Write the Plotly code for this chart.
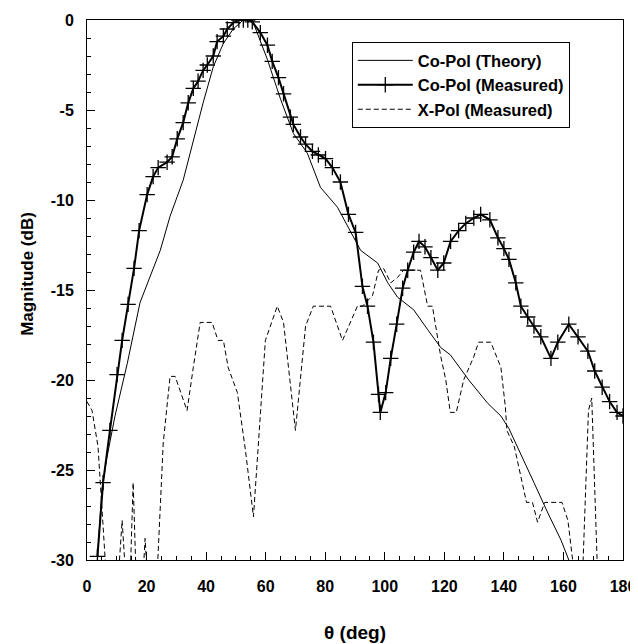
import plotly.graph_objects as go

# --- Co-Pol (Theory) ---
theory_theta = [3.5, 5.0, 6.7, 9.4, 13.5, 17.8, 24.6, 27.9, 32.3, 35.7, 39.0, 42.4,
                45.8, 49.1, 52.5, 55.5, 60.6, 65.0, 69.3, 74.0, 78.4, 84.1, 88.5,
                91.9, 97.6, 101.0, 104.3, 109.7, 114.4, 118.8, 122.0, 128.2, 134.6,
                139.0, 141.7, 145.7, 150.1, 154.8, 159.2, 161.8, 163.0]
theory_db = [-30.0, -26.1, -24.3, -22.0, -19.1, -15.7, -12.8, -10.9, -8.9, -6.7, -4.6, -2.6,
             -1.3, -0.5, 0.0, 0.0, -2.2, -4.4, -6.3, -7.4, -9.3, -10.4, -11.8,
             -12.8, -13.5, -14.6, -15.4, -16.1, -17.2, -18.2, -18.6, -20.0, -21.3,
             -22.0, -22.7, -24.1, -25.7, -27.4, -28.9, -30.0, -30.6]

# --- Co-Pol (Measured) ---
meas_theta = [3.5, 5.4, 7.7, 10.1, 11.8, 13.8, 15.8, 17.5, 20.2, 22.2, 23.9, 26.9,
              28.6, 30.3, 32.3, 34.0, 35.7, 37.3, 39.0, 40.4, 42.4, 43.7, 45.8, 47.1,
              49.1, 51.0, 52.5, 54.0, 55.5, 58.2, 60.6, 62.2, 64.3, 66.0, 68.3, 69.3,
              71.7, 73.4, 75.7, 77.7, 80.1, 82.4, 85.1, 87.8, 90.2, 92.5, 94.2, 96.2,
              97.9, 98.5, 100.3, 102.0, 104.0, 106.0, 107.7, 109.7, 111.5, 113.5,
              115.5, 117.8, 119.8, 122.1, 124.8, 127.2, 129.9, 132.2, 135.3, 138.0,
              140.0, 141.7, 144.0, 145.7, 148.0, 150.1, 152.4, 155.8, 158.1, 161.8,
              164.9, 168.2, 170.5, 173.0, 175.5, 178.0, 180.0]
meas_db = [-29.8, -25.7, -22.8, -19.7, -17.8, -15.8, -13.8, -11.7, -9.7, -8.7, -8.2, -7.9,
           -7.6, -6.6, -5.7, -4.6, -3.8, -3.4, -2.8, -2.5, -2.0, -1.2, -0.9, -0.5,
           -0.15, 0.0, 0.0, 0.0, -0.1, -0.7, -1.4, -2.3, -3.2, -4.1, -5.4, -5.8,
           -6.5, -6.9, -7.3, -7.5, -7.7, -8.2, -9.0, -10.8, -11.8, -14.8, -15.9, -17.9,
           -20.8, -21.8, -20.7, -18.8, -16.9, -14.9, -13.9, -12.9, -12.3, -12.6,
           -13.2, -13.9, -13.5, -12.3, -11.7, -11.3, -11.0, -10.8, -11.1, -12.1,
           -12.7, -13.3, -14.6, -15.9, -16.5, -17.0, -17.6, -18.8, -17.9, -16.9,
           -17.6, -18.4, -19.5, -20.4, -21.2, -21.8, -22.0]

# --- X-Pol (Measured) ---
xpol_theta = [0.0, 1.7, 3.7, 5.0, 6.5, 10.5, 11.8, 13.0, 14.5, 15.5, 16.5, 18.8, 19.5,
              20.3, 23.5, 25.6, 27.9, 29.6, 33.6, 35.7, 38.0, 42.0, 44.0, 45.8, 47.4,
              50.5, 53.2, 55.9, 57.2, 59.9, 63.9, 66.0, 70.0, 73.4, 76.0, 81.8, 85.8,
              90.8, 92.5, 95.9, 97.9, 99.6, 102.0, 104.3, 106.3, 112.0, 114.4, 116.0,
              118.8, 120.5, 122.0, 124.0, 126.5, 129.9, 131.5, 135.6, 139.0, 140.5,
              141.0, 143.5, 147.6, 149.6, 151.3, 153.7, 159.5, 161.5, 163.8, 166.4,
              168.4, 169.5, 171.5, 180.0]
xpol_db = [-21.2, -21.7, -23.7, -27.0, -31.0, -31.0, -27.8, -31.0, -31.0, -25.7, -31.0, -31.0, -28.8,
           -31.0, -31.0, -23.5, -19.8, -19.8, -21.7, -19.3, -16.8, -16.8, -17.8, -17.8, -19.3,
           -20.7, -23.9, -27.6, -24.3, -17.8, -15.9, -16.8, -22.8, -17.0, -15.9, -15.9, -17.8,
           -15.9, -15.9, -15.3, -13.9, -13.8, -14.6, -14.3, -13.9, -13.9, -15.9, -15.9,
           -18.7, -20.0, -21.8, -21.8, -20.0, -18.7, -17.9, -17.9, -19.3, -21.5,
           -22.8, -23.7, -26.8, -26.8, -27.9, -26.8, -26.8, -27.8, -31.0, -31.0,
           -21.7, -21.0, -31.0, -31.0]

x_ticks = [0, 20, 40, 60, 80, 100, 120, 140, 160, 180]
y_ticks = [0, -5, -10, -15, -20, -25, -30]

fig = go.Figure()

fig.add_trace(go.Scatter(
    x=theory_theta, y=theory_db, mode='lines',
    name='Co-Pol (Theory)',
    line=dict(color='black', width=1)
))

fig.add_trace(go.Scatter(
    x=meas_theta, y=meas_db, mode='lines+markers',
    name='Co-Pol (Measured)',
    line=dict(color='black', width=2),
    marker=dict(symbol='cross-thin', size=11, color='black',
                line=dict(color='black', width=1.3))
))

fig.add_trace(go.Scatter(
    x=xpol_theta, y=xpol_db, mode='lines',
    name='X-Pol (Measured)',
    line=dict(color='black', width=1, dash='5px,3px')
))

FONT = 'Liberation Sans, Arial, sans-serif'
tick_font = dict(family=FONT, size=16, color='black', weight='bold')

# page body adds an 8px margin, so the figure is 8px smaller on each side
fig.update_layout(
    width=630, height=636,
    margin=dict(l=79, r=15, t=12, b=84),
    plot_bgcolor='white', paper_bgcolor='white',
    font=dict(family=FONT, color='black'),
    xaxis=dict(
        range=[0, 180], tickvals=x_ticks, ticktext=[str(v) for v in x_ticks],
        ticks='inside', ticklen=8, tickcolor='black', tickwidth=1,
        minor=dict(ticks='inside', dtick=5, ticklen=4, tickcolor='black'),
        showline=True, linecolor='black', linewidth=1, mirror=True,
        showgrid=False, zeroline=False, tickfont=tick_font,
        ticklabelstandoff=12, automargin=False,
    ),
    yaxis=dict(
        range=[-30, 0], tickvals=y_ticks, ticktext=[str(v) for v in y_ticks],
        ticks='inside', ticklen=8, tickcolor='black', tickwidth=1,
        minor=dict(ticks='inside', dtick=1, ticklen=4, tickcolor='black'),
        showline=True, linecolor='black', linewidth=1, mirror=True,
        showgrid=False, zeroline=False, tickfont=tick_font,
        ticklabelstandoff=9, automargin=False,
    ),
    legend=dict(
        x=0.494, y=0.959, xanchor='left', yanchor='top',
        bgcolor='white', bordercolor='black', borderwidth=1,
        font=dict(size=16.5, weight='bold'), itemwidth=55, tracegroupgap=0,
    ),
    annotations=[
        dict(text='θ (deg)', xref='paper', yref='paper', x=0.5, y=-0.135,
             xanchor='center', yanchor='middle', showarrow=False,
             font=dict(family=FONT, size=19, weight='bold')),
        dict(text='Magnitude (dB)', xref='paper', yref='paper', x=-0.11, y=0.53,
             xanchor='center', yanchor='middle', showarrow=False, textangle=-90,
             font=dict(family=FONT, size=17, weight='bold')),
    ],
)

fig.write_html("out.html")
